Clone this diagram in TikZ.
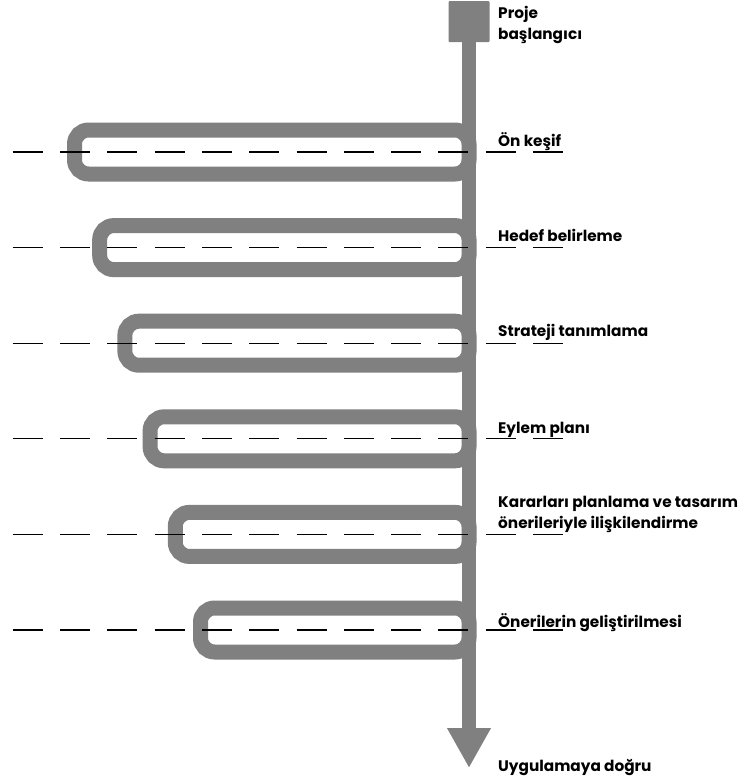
\documentclass[tikz,border=0pt]{standalone}
\usepackage{fontspec}
\setmainfont{Poppins}
\usetikzlibrary{arrows.meta}

\definecolor{bandgray}{gray}{0.5}
\tikzset{
  loopband/.style={draw=bandgray, line width=15pt, rounded corners=14pt},
  guide/.style={black, line width=1.2pt, dash pattern=on 30pt off 17.3pt},
  steplabel/.style={anchor=base west, inner sep=0pt, align=left,
    font=\bfseries\fontsize{15.3}{20.5}\selectfont}
}

\begin{document}
\begin{tikzpicture}[x=1pt,y=-1pt]
  \useasboundingbox (0,0) rectangle (742,780);

  % start box and end of the spine
  \node[fill=bandgray, minimum size=41pt, inner sep=0pt, rounded corners=1pt] (start) at (469,21.5) {};
  \coordinate (end) at (469,768);

  % the loops
  \foreach \i in {0,...,5}{
    \pgfmathsetmacro{\yc}{152+95.6*\i}
    \pgfmathsetmacro{\xl}{74.5+25.2*\i}
    \draw[loopband] (\xl,{\yc-22}) rectangle (469,{\yc+22});
  }

  % spine with arrow
  \draw[bandgray, line width=14pt, -{Triangle[width=41pt,length=40pt]}] (start.south) -- (end);

  % dashed guides and labels
  \foreach \i/\dy/\txt in {0/-6/{Ön keşif}, 1/-6/{Hedef belirleme}, 2/-7/{Strateji tanımlama},
      3/-5/{Eylem planı}, 4/-6/{Kararları planlama ve tasarım\\önerileriyle ilişkilendirme},
      5/-3/{Önerilerin geliştirilmesi}}{
    \pgfmathsetmacro{\yc}{152+95.6*\i}
    \draw[guide] (12.7,\yc) -- (563,\yc);
    \node[steplabel] (lbl\i) at (498,{\yc+\dy}) {\txt};
  }

  \node[steplabel] (projstart) at (498,39) {Proje\\başlangıcı};
  \node[steplabel] (toapply) at (498,771) {Uygulamaya doğru};
\end{tikzpicture}
\end{document}
